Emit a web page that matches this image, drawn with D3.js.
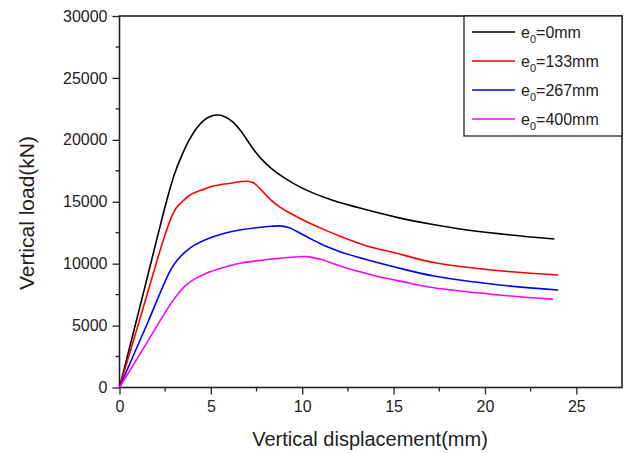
<!DOCTYPE html>
<html><head><meta charset="utf-8">
<script src="https://cdn.jsdelivr.net/npm/d3@7/dist/d3.min.js"></script>
<style>body{margin:0;background:#fff}svg{display:block}text{font-family:"Liberation Sans",Arial,sans-serif;fill:#222}</style>
</head><body><svg id="c" width="628" height="453"></svg>
<script>
const xTicks = [0, 5, 10, 15, 20, 25];
const yTicks = [0, 5000, 10000, 15000, 20000, 25000, 30000];
const seriesNames = ["0mm", "133mm", "267mm", "400mm"];
const seriesColors = ["#000000", "#ff0000", "#0000ff", "#ff00ff"];

const x0 = [0, 1.3, 2.6, 3.0, 3.4, 3.8, 4.2, 4.6, 5.0, 5.4, 5.8, 6.2, 6.6, 7.0, 7.4, 7.8, 8.3, 9.0, 10.0, 11.5, 13.0, 15.3, 17.0, 19.0, 21.0, 23.8];
const y0 = [0, 7590, 15180, 17200, 18700, 19950, 20900, 21550, 21900, 22000, 21850, 21450, 20800, 19950, 19100, 18400, 17700, 16950, 16100, 15200, 14550, 13700, 13200, 12720, 12380, 11990];

const x133 = [0, 1.2, 2.4, 2.8, 3.1, 3.5, 3.86, 4.5, 5.14, 6.0, 7.0, 7.3, 7.7, 8.2, 8.8, 9.5, 10.3, 11.2, 12.1, 13.5, 15.0, 17.2, 20.8, 24.0];
const y133 = [0, 5955, 11910, 13600, 14500, 15100, 15545, 15950, 16270, 16480, 16650, 16550, 16050, 15250, 14550, 13950, 13350, 12750, 12200, 11450, 10900, 10100, 9430, 9085];

const x267 = [0, 1.5, 2.8, 3.2, 3.6, 4.1, 4.8, 5.6, 6.5, 7.5, 8.3, 8.8, 9.3, 9.9, 10.6, 11.3, 12.1, 13.5, 15.0, 17.2, 20.8, 24.0];
const y267 = [0, 5090, 9500, 10350, 10950, 11500, 12000, 12400, 12700, 12900, 13020, 13050, 12900, 12450, 11900, 11400, 10950, 10330, 9750, 9000, 8280, 7875];

const x400 = [0, 1.5, 2.8, 3.2, 3.6, 4.1, 4.8, 5.6, 6.6, 7.87, 9.0, 9.87, 10.24, 11.0, 12.0, 13.0, 14.2, 15.5, 17.2, 20.8, 23.72];
const y400 = [0, 3620, 6750, 7550, 8200, 8750, 9250, 9650, 10030, 10295, 10480, 10560, 10570, 10350, 9850, 9400, 8950, 8550, 8050, 7470, 7120];

const xs = [x0, x133, x267, x400];
const ys = [y0, y133, y267, y400];

const svg = d3.select("#c");
const L = 119.5, R = 622, T = 16, B = 387.5;
const x = d3.scaleLinear().domain([0, 27.5]).range([L, R]);
const y = d3.scaleLinear().domain([0, 30000]).range([B, T]);

// minor ticks
const xMinor = d3.range(2.5, 27.5, 5);
const yMinor = d3.range(2500, 30000, 5000);
svg.append("g").selectAll("line").data(xMinor).join("line")
  .attr("x1", d => x(d)).attr("x2", d => x(d)).attr("y1", B).attr("y2", B + 4)
  .attr("stroke", "#222").attr("stroke-width", 1.3);
svg.append("g").selectAll("line").data(yMinor).join("line")
  .attr("x1", L - 4).attr("x2", L).attr("y1", d => y(d)).attr("y2", d => y(d))
  .attr("stroke", "#222").attr("stroke-width", 1.3);

const gx = svg.append("g").attr("transform", `translate(0,${B})`)
  .call(d3.axisBottom(x).tickValues(xTicks).tickSize(7).tickPadding(6).tickFormat(d3.format("d")));
const gy = svg.append("g").attr("transform", `translate(${L},0)`)
  .call(d3.axisLeft(y).tickValues(yTicks).tickSize(7).tickPadding(5).tickFormat(d3.format("d")));
[gx, gy].forEach(g => {
  g.select(".domain").remove();
  g.selectAll("line").attr("stroke", "#222").attr("stroke-width", 1.3);
  g.selectAll("text").style("font-size", "16px").style("font-family", '"Liberation Sans",Arial,sans-serif').attr("fill", "#222");
});

// frame
svg.append("rect").attr("x", L).attr("y", T).attr("width", R - L).attr("height", B - T)
  .attr("fill", "none").attr("stroke", "#222").attr("stroke-width", 1.6);

const line = d3.line().x(d => x(d[0])).y(d => y(d[1])).curve(d3.curveCatmullRom.alpha(0.5));
xs.forEach((xa, i) => {
  const pts = xa.map((v, j) => [v, ys[i][j]]);
  svg.append("path").attr("d", line(pts)).attr("fill", "none")
    .attr("stroke", seriesColors[i]).attr("stroke-width", 1.6);
});

// axis titles
svg.append("text").attr("x", 370).attr("y", 446).attr("text-anchor", "middle")
  .style("font-size", "20px").text("Vertical displacement(mm)");
svg.append("text").attr("transform", "translate(34,213) rotate(-90)").attr("text-anchor", "middle")
  .style("font-size", "21px").text("Vertical load(kN)");

// legend
const lg = svg.append("g");
lg.append("rect").attr("x", 464).attr("y", T).attr("width", R - 464).attr("height", 120)
  .attr("fill", "#fff").attr("stroke", "#222").attr("stroke-width", 1.3);
seriesNames.forEach((n, i) => {
  const yy = 32 + i * 29;
  lg.append("line").attr("x1", 472).attr("x2", 515).attr("y1", yy).attr("y2", yy)
    .attr("stroke", seriesColors[i]).attr("stroke-width", 1.6);
  const t = lg.append("text").attr("x", 521).attr("y", yy + 6).style("font-size", "16px");
  t.append("tspan").text("e");
  t.append("tspan").attr("dy", 5).style("font-size", "11px").text("0");
  t.append("tspan").attr("dy", -5).text("=" + n);
});
</script></body></html>
